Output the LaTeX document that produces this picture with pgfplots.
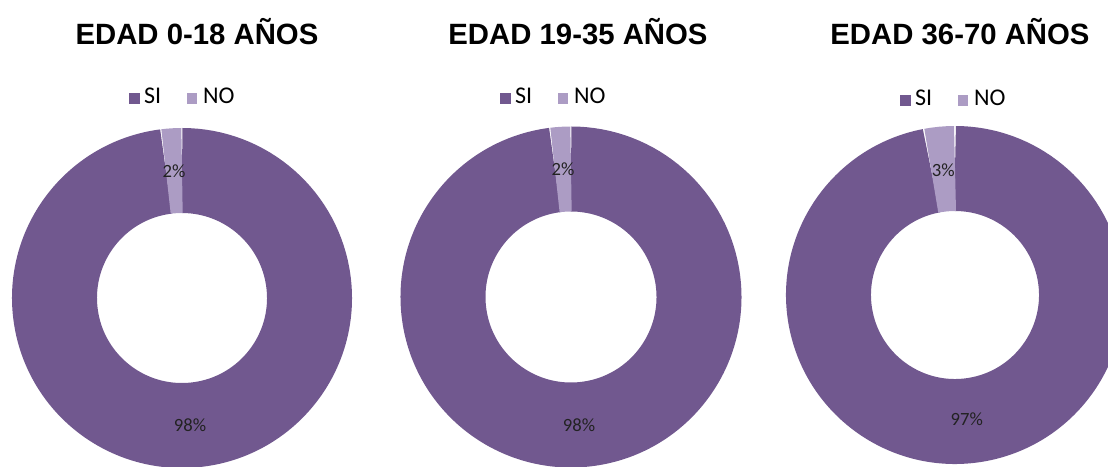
\documentclass[border=0pt]{standalone}
\usepackage{pgfplots}
\pgfplotsset{compat=1.18}
\usepackage{pgfplotstable}
\usepackage{fontspec}
\setmainfont{Liberation Sans}
\newfontfamily\calibri{Carlito}

\definecolor{siC}{HTML}{71588F}
\definecolor{noC}{HTML}{AC9CC4}
\definecolor{lblC}{HTML}{222222}

% one row per donut: centre and mid radius in px (y upwards), then the shares
\pgfplotstableread{
cx  cy  rmid  rlbl  si  no
182 169 127.5 127   98  2
571 170 128   128   98  2
955 172 126.5 125   97  3
}\donuts

\newcommand\legbox{\textcolor{siC}{\rule{8pt}{8pt}}\hspace{3pt}SI\hspace{19pt}\textcolor{noC}{\rule{8pt}{8pt}}\hspace{4.5pt}NO}

\begin{document}
\begin{tikzpicture}
\begin{axis}[
    hide axis,
    x=0.75pt, y=0.75pt,
    xmin=0, xmax=1108, ymin=0, ymax=467,
    clip=false,
]
\pgfplotsinvokeforeach{0,1,2}{
    \pgfplotstablegetelem{#1}{cx}\of\donuts \let\dCx\pgfplotsretval
    \pgfplotstablegetelem{#1}{cy}\of\donuts \let\dCy\pgfplotsretval
    \pgfplotstablegetelem{#1}{rmid}\of\donuts \let\dRm\pgfplotsretval
    \pgfplotstablegetelem{#1}{rlbl}\of\donuts \let\dRl\pgfplotsretval
    \pgfplotstablegetelem{#1}{si}\of\donuts \let\dSi\pgfplotsretval
    \pgfplotstablegetelem{#1}{no}\of\donuts \let\dNo\pgfplotsretval
    \pgfmathsetmacro\dA{90+3.6*\dNo}
    \pgfmathsetmacro\dMno{90+1.8*\dNo}
    \pgfmathsetmacro\dMsi{\dA+1.8*\dSi}
    \pgfmathsetmacro\dRr{\dRm*0.75}
    \pgfmathsetmacro\dLr{\dRl*0.75}
    \edef\dTemp{%
      \noexpand\draw[siC, line width=63.75pt] (axis cs:\dCx,\dCy) ++(\dA:\dRr pt)
        arc[start angle=\dA, end angle=450, radius=\dRr pt];
      \noexpand\draw[noC, line width=63.75pt] (axis cs:\dCx,\dCy) ++(90:\dRr pt)
        arc[start angle=90, end angle=\dA, radius=\dRr pt];
      \noexpand\path (axis cs:\dCx,\dCy) ++(\dMno:\dLr pt)
        node[text=lblC, font=\noexpand\calibri\noexpand\fontsize{14}{17}\noexpand\selectfont] {\dNo\noexpand\%};
      \noexpand\path (axis cs:\dCx,\dCy) ++(\dMsi:\dLr pt)
        node[text=lblC, font=\noexpand\calibri\noexpand\fontsize{14}{17}\noexpand\selectfont] {\dSi\noexpand\%};
    }\dTemp
}

\tikzset{ttl/.style={font=\bfseries\fontsize{22}{26}\selectfont},
         leg/.style={font=\calibri\fontsize{18}{21}\selectfont, inner sep=0pt}}
\node[ttl] at (axis cs:197,435) {EDAD 0-18 AÑOS};
\node[ttl] at (axis cs:578,435) {EDAD 19-35 AÑOS};
\node[ttl] at (axis cs:960,435) {EDAD 36-70 AÑOS};

\node[leg] at (axis cs:182,371) {\legbox};
\node[leg] at (axis cs:553,371) {\legbox};
\node[leg] at (axis cs:953,369) {\legbox};
\end{axis}
\pgfresetboundingbox
\clip (0,0) rectangle (831pt,350.25pt);
\end{tikzpicture}
\end{document}
